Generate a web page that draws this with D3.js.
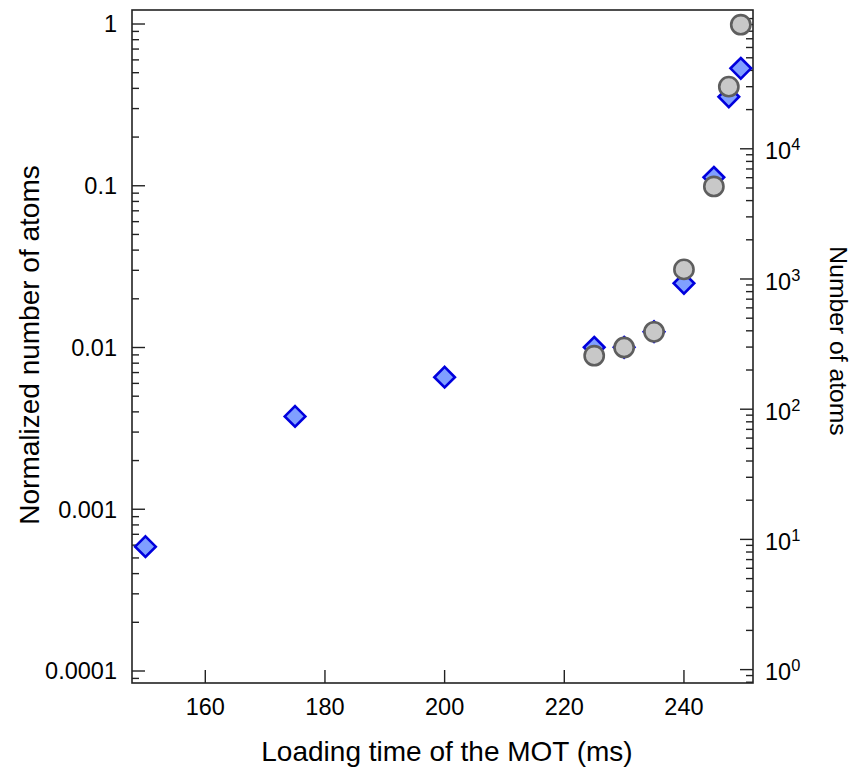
<!DOCTYPE html>
<html>
<head>
<meta charset="utf-8">
<script src="https://cdn.jsdelivr.net/npm/d3@7"></script>
<style>
  body { margin: 0; background: #fff; }
  text { font-family: "Liberation Sans", Arial, sans-serif; fill: #000; }
</style>
</head>
<body>
<svg id="chart" width="858" height="775"></svg>
<script>
// ---- data ----
const diamondTimes = [150, 175, 200, 225, 230, 235, 240, 245, 247.5, 249.5];   // ms
const diamondAtoms = [8.8, 88, 176, 299, 299, 394, 927, 6040, 25100, 41500];   // right axis: number of atoms
const circleTimes  = [225, 230, 235, 240, 245, 247.5, 249.5];                   // ms
const circleNorm   = [0.0089, 0.0100, 0.0125, 0.0304, 0.099, 0.41, 0.99];       // left axis: normalized
const xTicks = [160, 180, 200, 220, 240];
const leftTicks = [1, 0.1, 0.01, 0.001, 0.0001];
const leftTickLabels = ["1", "0.1", "0.01", "0.001", "0.0001"];
const rightExponents = [0, 1, 2, 3, 4];
const xTitle = "Loading time of the MOT (ms)";
const yLeftTitle = "Normalized number of atoms";
const yRightTitle = "Number of atoms";

// ---- layout ----
const L = 132, R = 753, T = 10, B = 683;
const svg = d3.select("#chart");

const x = d3.scaleLinear().domain([147.75, 251.54]).range([L, R]);
const yL = d3.scaleLog().domain([Math.pow(10, -4.0742), Math.pow(10, 0.0866)]).range([B, T]);
const yR = d3.scaleLog().domain([Math.pow(10, -0.1029), Math.pow(10, 5.066)]).range([B, T]);

const FS = 23.5;   // tick labels
const TFS = 28;    // axis titles
const axisColor = "#222";

function logTicks(scale) {
  const [d0, d1] = scale.domain();
  const out = [];
  for (let e = Math.floor(Math.log10(d0)); e <= Math.ceil(Math.log10(d1)); e++) {
    for (let m = 1; m <= 9; m++) {
      const v = m * Math.pow(10, e);
      if (v >= d0 && v <= d1) out.push({v, major: m === 1});
    }
  }
  return out;
}

// left axis ticks (inward)
const gL = svg.append("g");
gL.selectAll("line").data(logTicks(yL)).join("line")
  .attr("x1", L).attr("x2", d => L + (d.major ? 13 : 7))
  .attr("y1", d => yL(d.v)).attr("y2", d => yL(d.v))
  .attr("stroke", axisColor).attr("stroke-width", 1.4);
gL.selectAll("text").data(leftTicks).join("text")
  .attr("x", L - 15).attr("y", d => yL(d))
  .attr("dy", "0.36em").attr("text-anchor", "end")
  .attr("font-size", FS)
  .text((d, i) => leftTickLabels[i]);

// right axis ticks (inward)
const gR = svg.append("g");
gR.selectAll("line").data(logTicks(yR)).join("line")
  .attr("x1", R).attr("x2", d => R - (d.major ? 13 : 7))
  .attr("y1", d => yR(d.v)).attr("y2", d => yR(d.v))
  .attr("stroke", axisColor).attr("stroke-width", 1.4);
const rl = gR.selectAll("text").data(rightExponents).join("text")
  .attr("x", R + 12).attr("y", d => yR(Math.pow(10, d)))
  .attr("dy", "0.45em")
  .attr("font-size", FS);
rl.append("tspan").text("10");
rl.append("tspan").attr("dy", "-0.55em").attr("font-size", FS * 0.7).text(d => d);

// bottom axis ticks (inward)
const gB = svg.append("g");
gB.selectAll("line").data(xTicks).join("line")
  .attr("x1", d => x(d)).attr("x2", d => x(d))
  .attr("y1", B).attr("y2", B - 13)
  .attr("stroke", axisColor).attr("stroke-width", 1.4);
gB.selectAll("text").data(xTicks).join("text")
  .attr("x", d => x(d)).attr("y", B + 32)
  .attr("text-anchor", "middle")
  .attr("font-size", FS)
  .text(d => d);

// frame
svg.append("rect").attr("x", L).attr("y", T).attr("width", R - L).attr("height", B - T)
  .attr("fill", "none").attr("stroke", axisColor).attr("stroke-width", 1.6);

// titles
svg.append("text").attr("x", 447).attr("y", 761)
  .attr("text-anchor", "middle").attr("font-size", TFS).text(xTitle);
svg.append("text").attr("transform", `translate(39, 345) rotate(-90)`)
  .attr("text-anchor", "middle").attr("font-size", TFS).text(yLeftTitle);
svg.append("text").attr("transform", `translate(830, 341) rotate(90)`)
  .attr("text-anchor", "middle").attr("font-size", 24.7).text(yRightTitle);

// diamonds (number of atoms, right axis)
const diamondData = diamondTimes.map((t, i) => ({t, v: diamondAtoms[i]}));
svg.append("g").selectAll("path").data(diamondData).join("path")
  .attr("d", d3.symbol().type(d3.symbolDiamond2).size(270))
  .attr("transform", d => `translate(${x(d.t)},${yR(d.v)})`)
  .attr("fill", "#809fff").attr("stroke", "#0000dd").attr("stroke-width", 2.6)
  .attr("stroke-linejoin", "miter");

// circles (normalized, left axis)
const circleData = circleTimes.map((t, i) => ({t, v: circleNorm[i]}));
svg.append("g").selectAll("circle").data(circleData).join("circle")
  .attr("cx", d => x(d.t)).attr("cy", d => yL(d.v)).attr("r", 9.6)
  .attr("fill", "#c8c8c8").attr("stroke", "#5e5e5e").attr("stroke-width", 2.6);
</script>
</body>
</html>
